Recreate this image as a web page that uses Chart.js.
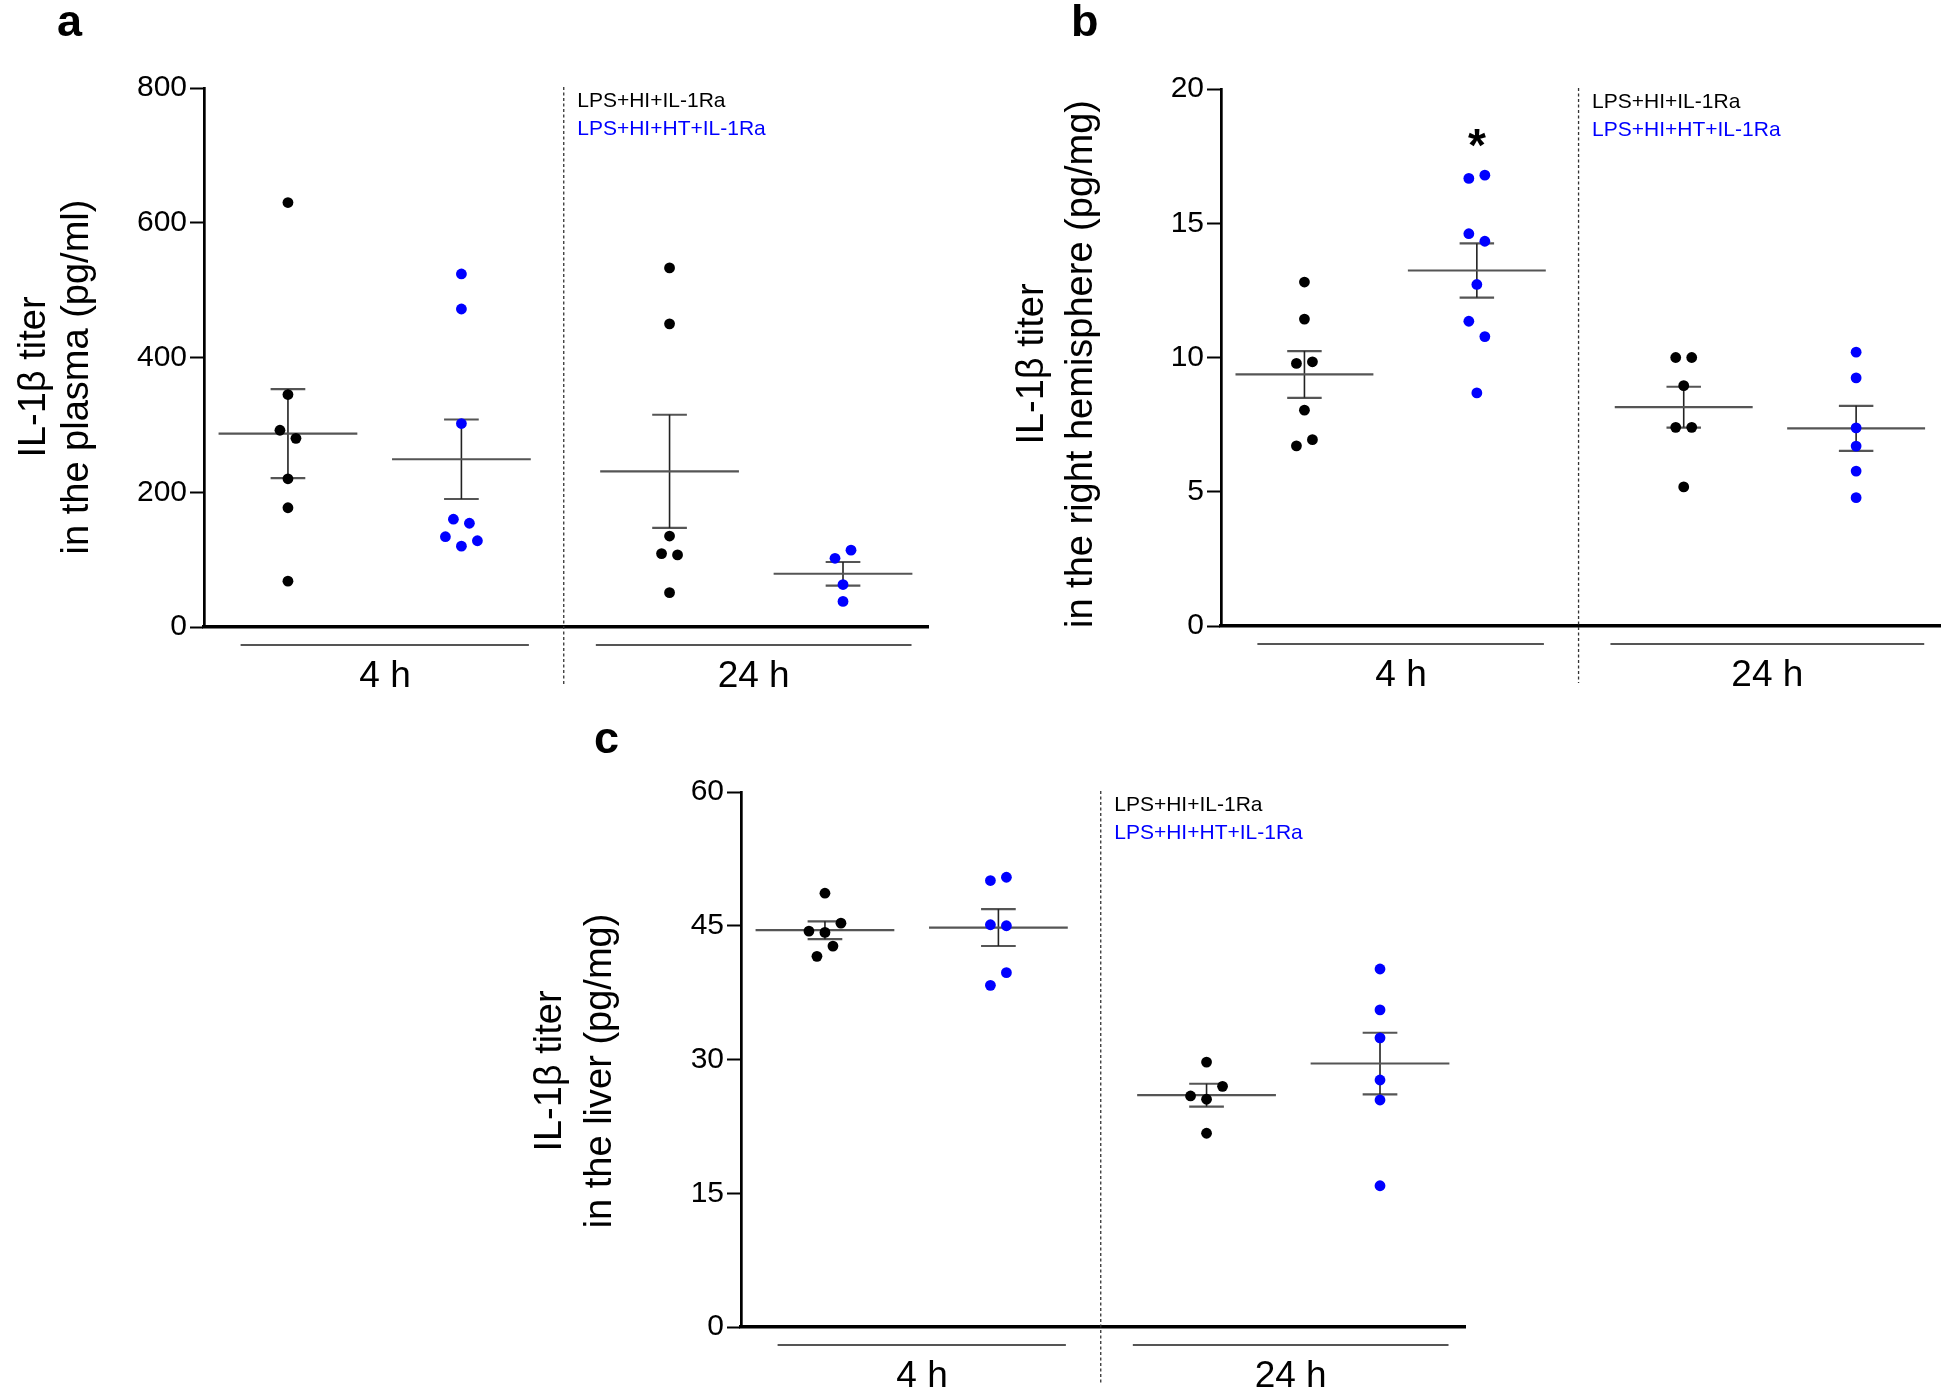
<!DOCTYPE html>
<html>
<head>
<meta charset="utf-8">
<script src="https://cdn.jsdelivr.net/npm/chart.js@4.4.1/dist/chart.umd.min.js"></script>
<style>
body{margin:0;background:#fff;width:1946px;height:1387px;position:relative;overflow:hidden;}
canvas{position:absolute;}
</style>
</head>
<body>
<canvas id="plasmaChart" width="973" height="700" style="left:0;top:0"></canvas>
<canvas id="hemiChart" width="973" height="700" style="left:973px;top:0"></canvas>
<canvas id="liverChart" width="1000" height="687" style="left:480px;top:700px"></canvas>
<script>
// ==========================================
// IL-1b titers, 4 h / 24 h, two treatment groups
// ==========================================

const groups=["LPS+HI+IL-1Ra","LPS+HI+HT+IL-1Ra"];
const times=["4 h","24 h"];

// a - plasma (pg/ml)
const plasmaTicks=[0,200,400,600,800];
const plasma4hHI=[630,345,292,280,220,177,68];
const plasma4hHT=[524,472,302,160,154,134,120,128];
const plasma24hHI=[533,450,135,109,107,51];
const plasma24hHT=[102,114,63,38];
const plasmaMean=[287,249,231,79];
const plasmaSem=[66,59,84,17.5];

// b - right hemisphere (pg/mg)
const hemiTicks=[0,5,10,15,20];
const hemi4hHI=[12.81,11.43,9.78,9.84,8.04,6.71,6.94];
const hemi4hHT=[16.67,16.79,14.61,14.33,12.72,11.35,10.78,8.68];
const hemi24hHI=[10.0,10.0,8.95,7.4,7.4,5.18];
const hemi24hHT=[10.2,9.24,7.38,6.70,5.77,4.78];
const hemiMean=[9.37,13.24,8.15,7.36];
const hemiSem=[0.87,1.01,0.76,0.84];
const hemiStar={group:1,value:18.3};

// c - liver (pg/mg)
const liverTicks=[0,15,30,45,60];
const liver4hHI=[48.65,44.40,44.25,45.29,41.57,42.72];
const liver4hHT=[50.07,50.44,45.11,45.0,38.32,39.74];
const liver24hHI=[29.71,25.91,25.54,26.99,21.73];
const liver24hHT=[40.15,35.56,32.43,27.70,25.46,15.84];
const liverMean=[44.5,44.8,26.0,29.55];
const liverSem=[1.0,2.07,1.28,3.45];

// ==========================================
// layout (x axis units)
// ==========================================
const FONT='"Liberation Sans", Arial, Helvetica, sans-serif';
const groupX=[0,1,2.2,3.2];
const xMin=-0.484, xMax=3.69;
const dividerX=1.59;
const timeSpans=[[-0.273,1.389],[1.775,3.595]];
const timeX=[0.56,2.685];
const halfMean=0.4, halfCap=0.1;
const dotColors=["#000000","#0000ff","#000000","#0000ff"];
const legendColors=["#000000","#0000ff"];

function seg(a,b,color,w){
  return {
    type:"scatter",
    data:[{x:a[0],y:a[1]},{x:b[0],y:b[1]}],
    showLine:true,
    borderColor:color,
    borderWidth:w,
    pointRadius:0,
    order:1
  };
}

function buildDatasets(series,mean,sem){
  let ds=[];
  series.forEach((vals,g)=>{
    const gx=groupX[g];
    ds.push({
      type:"scatter",
      data:vals.map(v=>({x:gx,y:v})),
      backgroundColor:dotColors[g],
      borderWidth:0,
      pointRadius:5.4,
      pointHoverRadius:5.4,
      order:0,
      swarm:g
    });
    ds.push(seg([gx-halfMean,mean[g]],[gx+halfMean,mean[g]],"#555",2.2));
    ds.push(seg([gx,mean[g]-sem[g]],[gx,mean[g]+sem[g]],"#222",1.6));
    ds.push(seg([gx-halfCap,mean[g]-sem[g]],[gx+halfCap,mean[g]-sem[g]],"#555",2.2));
    ds.push(seg([gx-halfCap,mean[g]+sem[g]],[gx+halfCap,mean[g]+sem[g]],"#555",2.2));
  });
  return ds;
}

// rows of close points spread sideways, like a scatter dot plot
function swarmOffsets(vals,yScale){
  const idx=vals.map((v,i)=>i).sort((a,b)=>vals[b]-vals[a]);
  let rows=[], cur=null;
  idx.forEach(i=>{
    const py=yScale.getPixelForValue(vals[i]);
    if(cur && py-cur.start<16){cur.items.push(i);}
    else{cur={start:py,items:[i]};rows.push(cur);}
  });
  let off=vals.map(()=>0);
  rows.forEach(r=>{
    r.items.sort((a,b)=>a-b);
    r.items.forEach((i,k)=>{off[i]=(k-(r.items.length-1)/2)*16;});
  });
  return off;
}

function applySwarm(chart){
  const xs=chart.scales.x, ys=chart.scales.y;
  const unit=xs.getPixelForValue(1)-xs.getPixelForValue(0);
  chart.data.datasets.forEach(d=>{
    if(d.swarm===undefined) return;
    const vals=d.data.map(p=>p.y);
    const off=swarmOffsets(vals,ys);
    d.data.forEach((p,i)=>{p.x=groupX[d.swarm]+off[i]/unit;});
  });
  chart.update("none");
}

const panelDecor={
  id:"panelDecor",
  afterDraw(chart,args,o){
    const ctx=chart.ctx, xs=chart.scales.x, ys=chart.scales.y, ca=chart.chartArea;
    ctx.save();
    // dashed divider between 4 h and 24 h
    const dx=xs.getPixelForValue(dividerX);
    ctx.strokeStyle="#333";
    ctx.lineWidth=1.3;
    ctx.setLineDash([3,2.5]);
    ctx.beginPath();
    ctx.moveTo(dx,ca.top-1);
    ctx.lineTo(dx,ca.bottom+57);
    ctx.stroke();
    ctx.setLineDash([]);
    // time bars
    ctx.strokeStyle="#555";
    ctx.lineWidth=2;
    timeSpans.forEach(s=>{
      ctx.beginPath();
      ctx.moveTo(xs.getPixelForValue(s[0]),ca.bottom+18);
      ctx.lineTo(xs.getPixelForValue(s[1]),ca.bottom+18);
      ctx.stroke();
    });
    // legend
    ctx.font="21px "+FONT;
    ctx.textAlign="left";
    ctx.textBaseline="alphabetic";
    groups.forEach((g,i)=>{
      ctx.fillStyle=legendColors[i];
      ctx.fillText(g,dx+13.5,ca.top+19+28*i);
    });
    // panel letter
    ctx.fillStyle="#000";
    ctx.font="bold 45px "+FONT;
    ctx.fillText(o.letter,o.letterX,o.letterY);
    // y title, two lines
    ctx.font="38px "+FONT;
    ctx.textAlign="center";
    o.title.forEach((t,i)=>{
      ctx.save();
      ctx.translate(o.titleX[i],o.titleY);
      ctx.rotate(-Math.PI/2);
      ctx.fillText(t,0,0);
      ctx.restore();
    });
    // significance mark
    if(o.star){
      ctx.font="bold 46px "+FONT;
      ctx.fillText("*",xs.getPixelForValue(groupX[o.star.group]),ys.getPixelForValue(o.star.value)+26);
    }
    ctx.restore();
  }
};

function makePanel(id,p){
  const chart=new Chart(document.getElementById(id),{
    type:"scatter",
    data:{datasets:buildDatasets(p.series,p.mean,p.sem)},
    options:{
      responsive:false,
      maintainAspectRatio:false,
      animation:false,
      events:[],
      layout:{padding:p.padding},
      plugins:{
        legend:{display:false},
        tooltip:{enabled:false},
        panelDecor:p.decor
      },
      scales:{
        x:{
          type:"linear",
          min:xMin,
          max:xMax,
          afterFit:s=>{s.height=p.xHeight;},
          afterBuildTicks:s=>{s.ticks=timeX.map(v=>({value:v}));},
          grid:{display:false,drawTicks:false},
          border:{display:true,color:"#000",width:3.4},
          ticks:{
            autoSkip:false,
            maxRotation:0,
            padding:28,
            color:"#000",
            font:{family:FONT,size:37},
            callback:(v,i)=>times[i]
          }
        },
        y:{
          type:"linear",
          min:p.ticks[0],
          max:p.ticks[p.ticks.length-1],
          afterFit:s=>{s.width=p.yWidth;},
          afterBuildTicks:s=>{s.ticks=p.ticks.map(v=>({value:v}));},
          grid:{display:true,drawOnChartArea:false,drawTicks:true,tickLength:14,tickWidth:2,tickColor:"#000"},
          border:{display:true,color:"#000",width:2.7},
          ticks:{
            padding:3,
            color:"#000",
            font:{family:FONT,size:30}
          }
        }
      }
    },
    plugins:[panelDecor]
  });
  applySwarm(chart);
  return chart;
}

makePanel("plasmaChart",{
  series:[plasma4hHI,plasma4hHT,plasma24hHI,plasma24hHT],
  mean:plasmaMean,
  sem:plasmaSem,
  ticks:plasmaTicks,
  padding:{top:88,right:45,bottom:0,left:0},
  yWidth:204,
  xHeight:73,
  decor:{letter:"a",letterX:57,letterY:36,title:["IL-1\u03B2 titer","in the plasma (pg/ml)"],titleX:[45,88],titleY:377}
});

makePanel("hemiChart",{
  series:[hemi4hHI,hemi4hHT,hemi24hHI,hemi24hHT],
  mean:hemiMean,
  sem:hemiSem,
  ticks:hemiTicks,
  padding:{top:89,right:1,bottom:0,left:0},
  yWidth:248,
  xHeight:74,
  decor:{letter:"b",letterX:98,letterY:36,title:["IL-1\u03B2 titer","in the right hemisphere (pg/mg)"],titleX:[70,119],titleY:364,star:hemiStar}
});

makePanel("liverChart",{
  series:[liver4hHI,liver4hHT,liver24hHI,liver24hHT],
  mean:liverMean,
  sem:liverSem,
  ticks:liverTicks,
  padding:{top:92,right:15,bottom:0,left:0},
  yWidth:261,
  xHeight:60,
  decor:{letter:"c",letterX:114,letterY:53,title:["IL-1\u03B2 titer","in the liver (pg/mg)"],titleX:[81,131],titleY:371}
});
</script>
</body>
</html>
